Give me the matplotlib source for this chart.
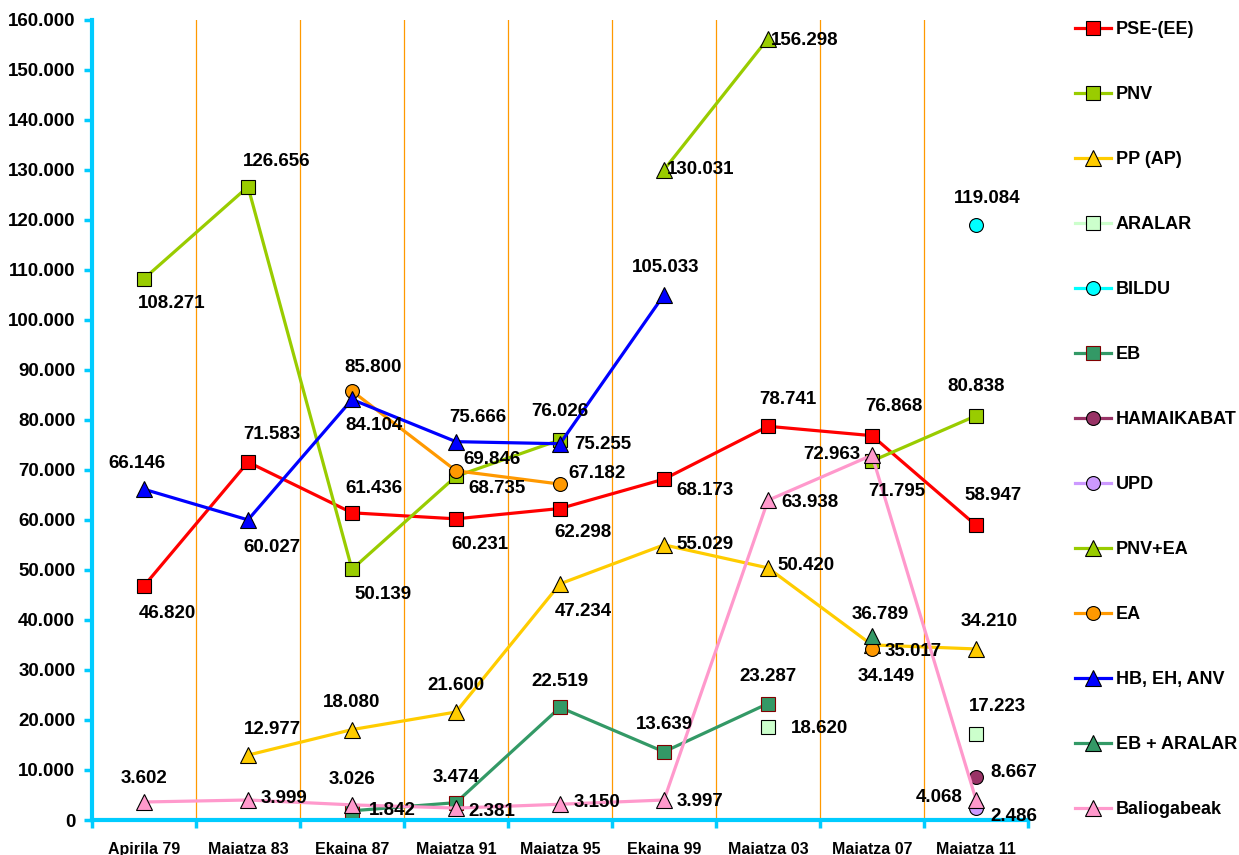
import matplotlib.pyplot as plt
import numpy as np

plt.rcParams['font.family'] = ['Liberation Sans', 'DejaVu Sans']
plt.rcParams['font.weight'] = 'bold'

nan = np.nan
years = ['Apirila 79', 'Maiatza 83', 'Ekaina 87', 'Maiatza 91', 'Maiatza 95',
         'Ekaina 99', 'Maiatza 03', 'Maiatza 07', 'Maiatza 11']

pse = [46820, 71583, 61436, 60231, 62298, 68173, 78741, 76868, 58947]
pnv = [108271, 126656, 50139, 68735, 76026, nan, nan, 71795, 80838]
pp = [nan, 12977, 18080, 21600, 47234, 55029, 50420, 35017, 34210]
aralar = [nan, nan, nan, nan, nan, nan, 18620, nan, 17223]
bildu = [nan, nan, nan, nan, nan, nan, nan, nan, 119084]
eb = [nan, nan, 1842, 3474, 22519, 13639, 23287, nan, nan]
hamaikabat = [nan, nan, nan, nan, nan, nan, nan, nan, 8667]
upd = [nan, nan, nan, nan, nan, nan, nan, nan, 2486]
pnv_ea = [nan, nan, nan, nan, nan, 130031, 156298, nan, nan]
ea = [nan, nan, 85800, 69846, 67182, nan, nan, 34149, nan]
hb = [66146, 60027, 84104, 75666, 75255, 105033, nan, nan, nan]
eb_aralar = [nan, nan, nan, nan, nan, nan, nan, 36789, nan]
baliogabeak = [3602, 3999, 3026, 2381, 3150, 3997, 63938, 72963, 4068]

# name, values, colour, marker, marker size, marker edge colour
series = [
    ('PSE-(EE)', pse, '#ff0000', 's', 9.5, 'black'),
    ('PNV', pnv, '#99cc00', 's', 9.5, 'black'),
    ('PP (AP)', pp, '#ffcc00', '^', 11, 'black'),
    ('ARALAR', aralar, '#ccffcc', 's', 9.5, 'black'),
    ('BILDU', bildu, '#00ffff', 'o', 10, 'black'),
    ('EB', eb, '#339966', 's', 9.5, '#800000'),
    ('HAMAIKABAT', hamaikabat, '#993366', 'o', 10, 'black'),
    ('UPD', upd, '#cc99ff', 'o', 10, 'black'),
    ('PNV+EA', pnv_ea, '#99cc00', '^', 11, 'black'),
    ('EA', ea, '#ff9900', 'o', 10, 'black'),
    ('HB, EH, ANV', hb, '#0000ff', '^', 11, 'black'),
    ('EB + ARALAR', eb_aralar, '#339966', '^', 11, 'black'),
    ('Baliogabeak', baliogabeak, '#ff99cc', '^', 11, 'black'),
]

# label offsets in pixels (dx right, dy down) from each point
offsets = {
    'PSE-(EE)': [(23, 28), (24, -28), (22, -24), (24, 26), (23, 24), (41, 11), (20, -27), (22, -29), (17, -30)],
    'PNV': [(28, 25), (29, -25), (31, 25), (41, 12), (0, -28), None, None, (25, 30), (0, -29)],
    'PP (AP)': [None, (24, -26), (0, -27), (0, -26), (23, 28), (41, 0), (38, -2), (41, 7), (13, -27)],
    'ARALAR': [None] * 6 + [(51, 2), None, (21, -27)],
    'BILDU': [None] * 8 + [(11, -26)],
    'EB': [None, None, (40, 0), (0, -25), (0, -26), (0, -27), (0, -27), None, None],
    'HAMAIKABAT': [None] * 8 + [(38, -4)],
    'UPD': [None] * 8 + [(38, 9)],
    'PNV+EA': [None] * 5 + [(37, 0), (37, 2), None, None],
    'EA': [None, None, (21, -24), (36, -11), (37, -11), None, None, (14, 27), None],
    'HB, EH, ANV': [(-7, -26), (24, 28), (22, 26), (22, -24), (43, 1), (2, -27), None, None, None],
    'EB + ARALAR': [None] * 7 + [(8, -22), None],
    'Baliogabeak': [(0, -23), (36, -2), (0, -25), (36, 3), (37, -2), (36, 1), (42, 2), (-40, -1), (-37, -2)],
}

fig = plt.figure(figsize=(12.39, 8.55), dpi=100)
ax = fig.add_axes([92 / 1239, 1 - 820 / 855, 936 / 1239, 800 / 855])

x = np.arange(len(years))
handles = []
for name, vals, col, mk, ms, mec in series:
    h, = ax.plot(x, vals, color=col, lw=2.3, marker=mk, markersize=ms,
                 markerfacecolor=col, markeredgecolor=mec, markeredgewidth=0.8,
                 label=name, clip_on=False, zorder=3)
    handles.append(h)
    for i, v in enumerate(vals):
        off = offsets[name][i]
        if np.isnan(v) or off is None:
            continue
        ax.annotate(f"{int(v):,}".replace(',', '.'), (i, v),
                    xytext=(off[0] * 0.72, -off[1] * 0.72), textcoords='offset points',
                    ha='center', va='center', fontsize=13.5, fontweight='bold',
                    zorder=10, annotation_clip=False)

ax.set_xlim(-0.5, len(years) - 0.5)
ax.set_ylim(0, 160000)
for b in np.arange(0.5, len(years) - 1, 1):
    ax.axvline(b, color='#ff9900', lw=0.9, zorder=1)

ax.set_yticks(np.arange(0, 160001, 10000))
ax.set_yticklabels([f"{int(t):,}".replace(',', '.') for t in np.arange(0, 160001, 10000)])
ax.set_xticks(np.arange(-0.5, len(years), 1))
ax.set_xticklabels([])
ax.set_xticks(x, minor=True)
ax.set_xticklabels(years, minor=True, fontsize=11.5, fontweight='bold')
ax.tick_params(axis='x', which='minor', length=0, pad=16)
ax.tick_params(axis='x', which='major', length=6, width=2.5, color='#00ccff', direction='out')
ax.tick_params(axis='y', length=6, width=2.5, color='#00ccff', direction='out', labelsize=13.5, pad=6)

for s in ['top', 'right']:
    ax.spines[s].set_visible(False)
for s in ['left', 'bottom']:
    ax.spines[s].set_color('#00ccff')
    ax.spines[s].set_linewidth(3)
    ax.spines[s].set_zorder(5)

fig.legend(handles=handles, loc='upper left', bbox_to_anchor=(1075 / 1239, 1 - 21 / 855),
           frameon=False, labelspacing=2.66, handlelength=2.0,
           handletextpad=0.25, borderpad=0, borderaxespad=0, prop={'weight': 'bold', 'size': 13})

fig.savefig('out.png', dpi=100)
